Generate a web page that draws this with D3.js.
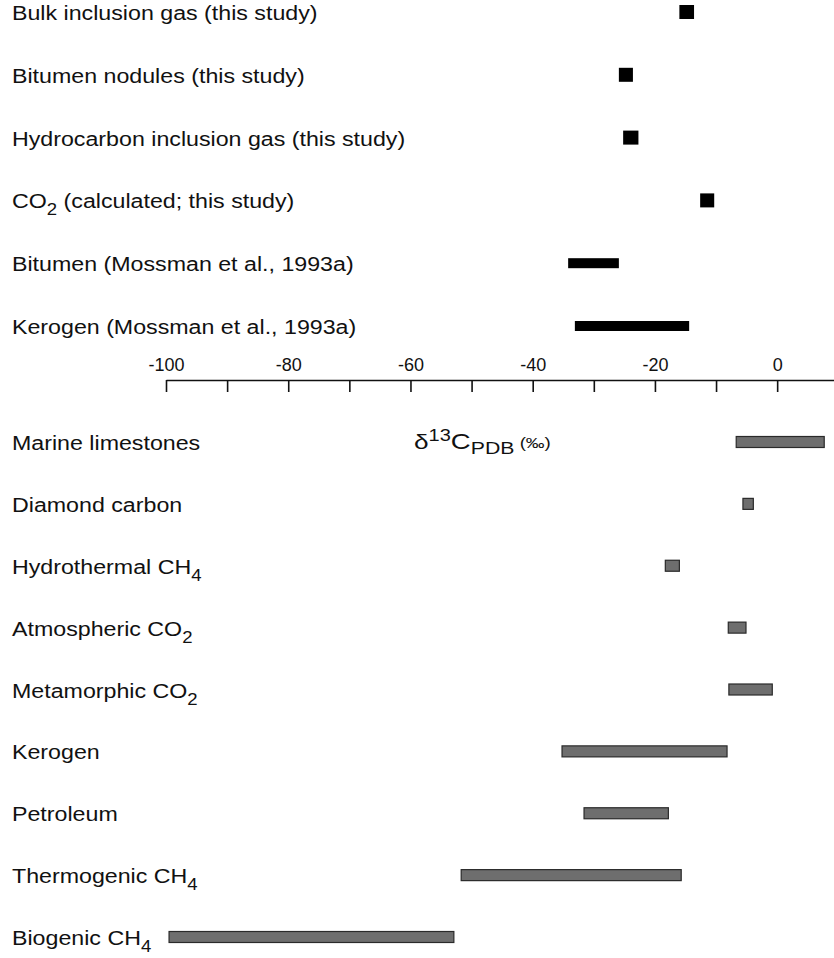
<!DOCTYPE html>
<html>
<head>
<meta charset="utf-8">
<script src="https://cdn.jsdelivr.net/npm/d3@7"></script>
<style>
  body { margin: 0; background: #fff; }
  text { font-family: "Liberation Sans", Arial, sans-serif; fill: #111; }
  .axis path, .axis line { stroke: #111; stroke-width: 1.6; }
  .axis text { font-size: 18px; }
</style>
</head>
<body>
<div id="chart"></div>
<script>

// delta 13C values (per mil PDB)
var studyLabels = ["Bulk inclusion gas (this study)", "Bitumen nodules (this study)",
                   "Hydrocarbon inclusion gas (this study)", "CO_2 (calculated; this study)",
                   "Bitumen (Mossman et al., 1993a)", "Kerogen (Mossman et al., 1993a)"];
var studyType = ["sample", "sample", "sample", "sample", "literature", "literature"];
var studyLow  = [-16.0, -25.9, -25.2, -12.6, -34.2, -33.1];
var studyHigh = [-13.6, -23.6, -22.7, -10.3, -25.9, -14.4];

var refLabels = ["Marine limestones", "Diamond carbon", "Hydrothermal CH_4", "Atmospheric CO_2",
                 "Metamorphic CO_2", "Kerogen", "Petroleum", "Thermogenic CH_4", "Biogenic CH_4"];
var refLow  = [-6.7, -5.6, -18.3, -8.0, -7.9, -35.2, -31.6, -51.7, -99.5];
var refHigh = [7.7, -3.9, -16.0, -5.1, -0.8, -8.2, -17.8, -15.7, -52.9];

var tickValues = d3.range(-100, 1, 10);

var width = 834,
    height = 958,
    labelX = 12,
    axisY = 380;

var svg = d3.select("#chart")
    .append("svg")
        .attr("width", width)
        .attr("height", height);

// x scale, the axis runs off the right edge of the figure
var xScale = d3.scaleLinear()
    .domain([-100, 9.3])
    .range([166, 834]);

var yTop = d3.scalePoint()
    .domain(d3.range(studyLabels.length))
    .range([12, 326]);

var yBottom = d3.scalePoint()
    .domain(d3.range(refLabels.length))
    .range([442, 937]);

// writes "CH_4" style labels with subscripts
function richText(sel, str, size) {
    var parts = str.split(/_(\d)/);
    parts.forEach(function(p, i) {
        if (p === "") return;
        if (i % 2 === 1) {
            sel.append("tspan").attr("font-size", size * 0.8).attr("dy", 7).text(p);
        } else {
            sel.append("tspan").attr("font-size", size).attr("dy", i > 0 ? -7 : 0).text(p);
        }
    });
}

function drawLabels(labels, yScale) {
    labels.forEach(function(d, i) {
        var t = svg.append("text")
            .attr("class", "label")
            .attr("transform", "translate(" + labelX + "," + (yScale(i) + 8) + ") scale(1.19,1)");
        richText(t, d, 19.5);
    });
}

drawLabels(studyLabels, yTop);
drawLabels(refLabels, yBottom);

// bars for this study and Mossman et al.
svg.selectAll(".study")
    .data(studyLabels)
    .enter().append("rect")
        .attr("class", "study")
        .attr("x", function(d, i) { return xScale(studyLow[i]); })
        .attr("width", function(d, i) { return xScale(studyHigh[i]) - xScale(studyLow[i]); })
        .attr("y", function(d, i) { return yTop(i) - (studyType[i] === "sample" ? 7 : 5); })
        .attr("height", function(d, i) { return studyType[i] === "sample" ? 14 : 10; })
        .attr("fill", "#000");

// reference ranges
svg.selectAll(".ref")
    .data(refLabels)
    .enter().append("rect")
        .attr("class", "ref")
        .attr("x", function(d, i) { return xScale(refLow[i]); })
        .attr("width", function(d, i) { return xScale(refHigh[i]) - xScale(refLow[i]); })
        .attr("y", function(d, i) { return yBottom(i) - 5.5; })
        .attr("height", 11)
        .attr("fill", "#6e6e6e")
        .attr("stroke", "#2a2a2a")
        .attr("stroke-width", 1.2);

// axis: ticks down, labels above the line
var xAxis = d3.axisBottom(xScale)
    .tickValues(tickValues)
    .tickSize(12)
    .tickSizeOuter(0)
    .tickFormat(function(d) { return d % 20 === 0 ? String(d) : ""; });

var axisG = svg.append("g")
    .attr("class", "axis")
    .attr("transform", "translate(0," + axisY + ")")
    .call(xAxis);

axisG.selectAll("text")
    .attr("y", -9)
    .attr("dy", 0)
    .attr("fill", "#111");

// axis title
var title = svg.append("text")
    .attr("transform", "translate(414,449) scale(1.25,1)");
title.append("tspan").attr("font-size", 21).text("\u03b4");
title.append("tspan").attr("font-size", 16).attr("dy", -8).text("13");
title.append("tspan").attr("font-size", 22).attr("dy", 8).text("C");
title.append("tspan").attr("font-size", 17).attr("dy", 5).text("PDB");
title.append("tspan").attr("font-size", 15).attr("dy", -6).text(" (\u2030)");

</script>
</body>
</html>
